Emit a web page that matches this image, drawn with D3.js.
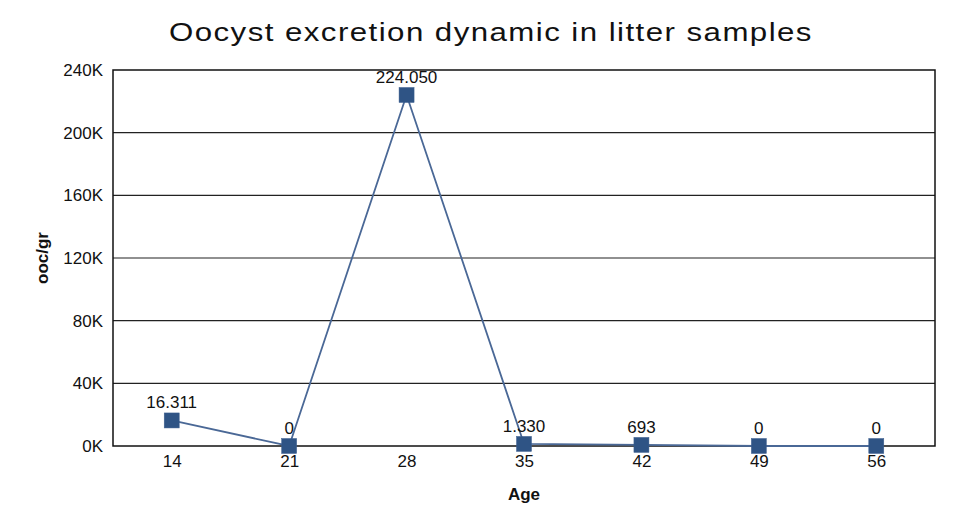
<!DOCTYPE html>
<html><head><meta charset="utf-8">
<script src="https://cdn.jsdelivr.net/npm/d3@7"></script>
<style>body{margin:0;background:#fff}</style>
</head><body>
<svg id="c" width="980" height="516"></svg>
<script>
const ages = ["14","21","28","35","42","49","56"];
const values = [16311, 0, 224050, 1330, 693, 0, 0];
const valueLabels = ["16.311","0","224.050","1.330","693","0","0"];
const yTicks = [0,40000,80000,120000,160000,200000,240000];
const yTickLabels = ["0K","40K","80K","120K","160K","200K","240K"];

const svg = d3.select("#c");
const m = {l:113, r:935, t:70, b:446};
const x = d3.scalePoint().domain(ages).range([m.l, m.r]).padding(0.5);
const y = d3.scaleLinear().domain([0,240000]).range([m.b, m.t]);
const FONT = "Liberation Sans, Arial";

svg.append("text").attr("transform","translate(169,41) scale(1.25,1)")
  .attr("font-family",FONT).attr("font-size",25)
  .attr("textLength",514).attr("lengthAdjust","spacing")
  .attr("fill","#111").text("Oocyst excretion dynamic in litter samples");

// grid
svg.append("g").selectAll("line").data(yTicks.slice(1,-1)).join("line")
  .attr("x1",m.l).attr("x2",m.r).attr("y1",d=>y(d)).attr("y2",d=>y(d))
  .attr("stroke","#222").attr("stroke-width",1.2);
svg.append("rect").attr("x",m.l).attr("y",m.t).attr("width",m.r-m.l).attr("height",m.b-m.t)
  .attr("fill","none").attr("stroke","#111").attr("stroke-width",1.5);

const ya = svg.append("g").attr("transform",`translate(${m.l},0)`)
  .call(d3.axisLeft(y).tickValues(yTicks).tickFormat((d,i)=>yTickLabels[i]).tickSize(0).tickPadding(10));
ya.select(".domain").remove();
ya.selectAll("text").attr("font-family",FONT).attr("font-size",17).attr("fill","#111");

const xa = svg.append("g").attr("transform",`translate(0,${m.b})`)
  .call(d3.axisBottom(x).tickSize(0).tickPadding(9));
xa.select(".domain").remove();
xa.selectAll("text").attr("font-family",FONT).attr("font-size",17).attr("fill","#111");

svg.append("text").attr("transform","translate(48,258) rotate(-90)").attr("text-anchor","middle")
  .attr("font-family",FONT).attr("font-weight","bold").attr("font-size",17).attr("fill","#111").text("ooc/gr");
svg.append("text").attr("x",524).attr("y",500).attr("text-anchor","middle")
  .attr("font-family",FONT).attr("font-weight","bold").attr("font-size",17).attr("fill","#111").text("Age");

const line = d3.line().x((d,i)=>x(ages[i])).y(d=>y(d));
svg.append("path").datum(values).attr("d",line).attr("fill","none").attr("stroke","#4a6896").attr("stroke-width",1.8);
svg.append("g").selectAll("rect").data(values).join("rect")
  .attr("x",(d,i)=>x(ages[i])-7.5).attr("y",d=>y(d)-7.5).attr("width",15).attr("height",15)
  .attr("fill","#2f5485").attr("stroke","#3d5f8f").attr("stroke-width",0.5);
svg.append("g").selectAll("text").data(values).join("text")
  .attr("x",(d,i)=>x(ages[i])).attr("y",d=>y(d)-12).attr("text-anchor","middle")
  .attr("font-family",FONT).attr("font-size",17).attr("fill","#111")
  .text((d,i)=>valueLabels[i]);
</script>
</body></html>
